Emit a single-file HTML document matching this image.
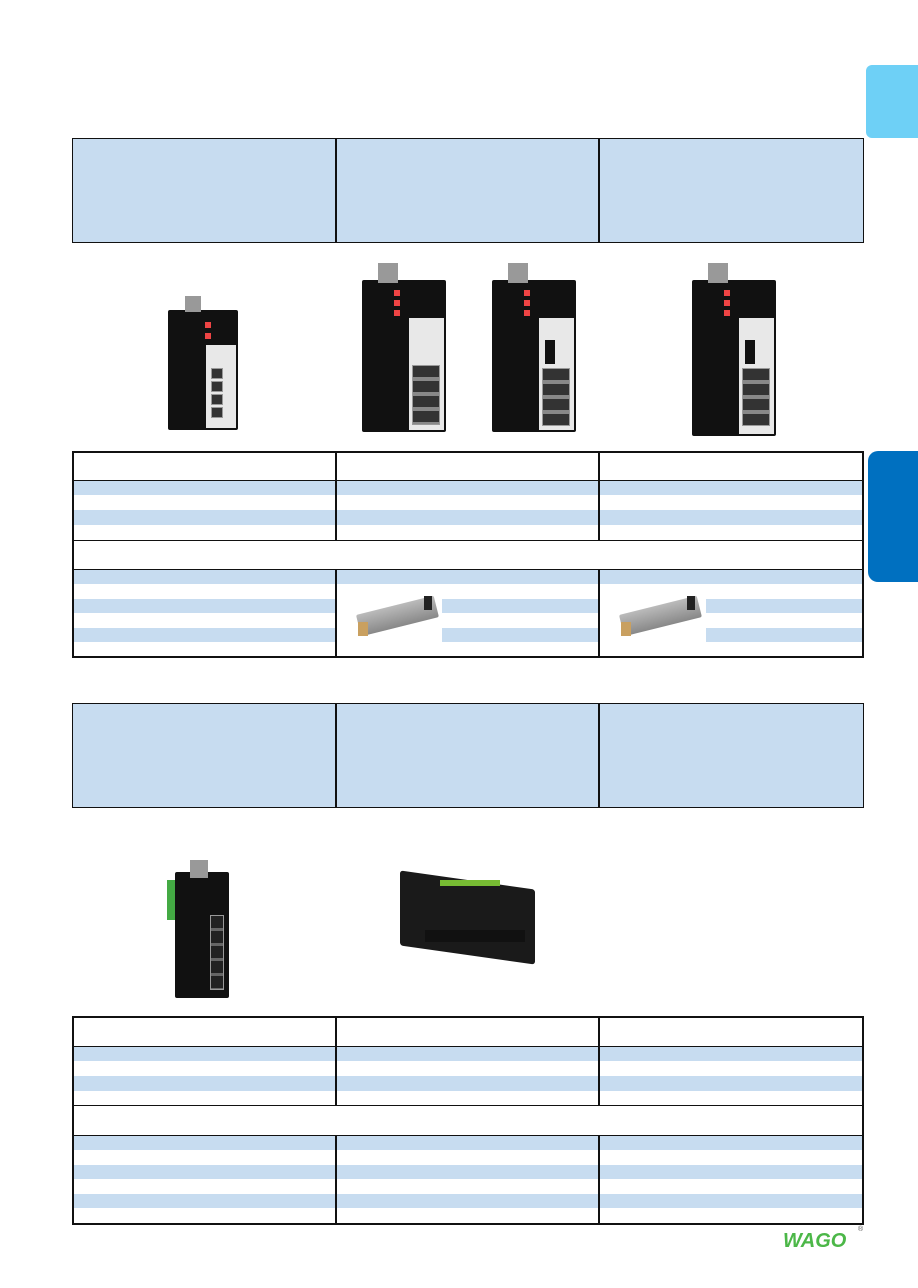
<!DOCTYPE html>
<html><head><meta charset="utf-8"><style>
body{margin:0;width:918px;height:1288px;background:#fff;position:relative;overflow:hidden;font-family:"Liberation Sans",sans-serif}
div{position:absolute;box-sizing:border-box}
.b{background:#c7dcf0}
.hd{background:#c7dcf0;border:1px solid #111}
.bk{background:#111}
.pn{background:#e8e8e8}
.port{background:#333;border:1px solid #999}
</style></head><body>
<!-- side tabs -->
<div style="left:866px;top:65px;width:52px;height:73px;background:#6ed0f6;border-radius:6px 0 0 6px"></div>
<div style="left:868px;top:451px;width:50px;height:131px;background:#0070c0;border-radius:10px 0 0 10px"></div>

<!-- Section 1 header -->
<div class="hd" style="left:72px;top:138px;width:792px;height:105px"></div>
<div style="left:335px;top:138px;width:2px;height:105px;background:#111"></div>
<div style="left:598px;top:138px;width:2px;height:105px;background:#111"></div>

<!-- Table 1 -->
<div style="left:72px;top:451px;width:792px;height:207px;border:2px solid #111"></div>
<div class="b" style="left:74px;top:481px;width:788px;height:14px"></div>
<div class="b" style="left:74px;top:510px;width:788px;height:15px"></div>
<div style="left:72px;top:480px;width:792px;height:1px;background:#111"></div>
<div style="left:72px;top:540px;width:792px;height:1px;background:#111"></div>
<div style="left:72px;top:569px;width:792px;height:1px;background:#111"></div>
<div class="b" style="left:74px;top:570px;width:788px;height:14px"></div>
<div class="b" style="left:74px;top:599px;width:262px;height:14px"></div>
<div class="b" style="left:74px;top:628px;width:262px;height:14px"></div>
<div class="b" style="left:442px;top:599px;width:156px;height:14px"></div>
<div class="b" style="left:442px;top:628px;width:156px;height:14px"></div>
<div class="b" style="left:706px;top:599px;width:156px;height:14px"></div>
<div class="b" style="left:706px;top:628px;width:156px;height:14px"></div>
<div style="left:335px;top:451px;width:2px;height:90px;background:#111"></div>
<div style="left:598px;top:451px;width:2px;height:90px;background:#111"></div>
<div style="left:335px;top:569px;width:2px;height:89px;background:#111"></div>
<div style="left:598px;top:569px;width:2px;height:89px;background:#111"></div>

<!-- SFP modules -->
<div style="left:356px;top:600px;width:80px;height:22px;background:linear-gradient(#bbb,#888);transform:rotate(-14deg);transform-origin:left top;top:615px;border-radius:2px"></div>
<div style="left:358px;top:622px;width:10px;height:14px;background:#c9a060"></div>
<div style="left:424px;top:596px;width:8px;height:14px;background:#222"></div>
<div style="left:619px;top:600px;width:80px;height:22px;background:linear-gradient(#bbb,#888);transform:rotate(-14deg);transform-origin:left top;top:615px;border-radius:2px"></div>
<div style="left:621px;top:622px;width:10px;height:14px;background:#c9a060"></div>
<div style="left:687px;top:596px;width:8px;height:14px;background:#222"></div>

<!-- Devices section 1 -->
<div class="bk" style="left:168px;top:310px;width:70px;height:120px;border-radius:2px"></div>
<div style="left:185px;top:296px;width:16px;height:16px;background:#999"></div>
<div style="left:206px;top:345px;width:30px;height:83px;background:#e8e8e8"></div>
<div class="port" style="left:211px;top:368px;width:12px;height:11px"></div>
<div class="port" style="left:211px;top:381px;width:12px;height:11px"></div>
<div class="port" style="left:211px;top:394px;width:12px;height:11px"></div>
<div class="port" style="left:211px;top:407px;width:12px;height:11px"></div>
<div style="left:205px;top:322px;width:6px;height:6px;background:#e44"></div>
<div style="left:205px;top:333px;width:6px;height:6px;background:#e44"></div>

<div class="bk" style="left:362px;top:280px;width:84px;height:152px;border-radius:2px"></div>
<div style="left:378px;top:263px;width:20px;height:20px;background:#999"></div>
<div style="left:409px;top:318px;width:35px;height:112px;background:#e8e8e8"></div>
<div style="left:394px;top:290px;width:6px;height:6px;background:#e44"></div>
<div style="left:394px;top:300px;width:6px;height:6px;background:#e44"></div>
<div style="left:394px;top:310px;width:6px;height:6px;background:#e44"></div>
<div class="port" style="left:412px;top:365px;width:28px;height:60px;background:repeating-linear-gradient(#333 0 11px,#888 11px 15px)"></div>

<div class="bk" style="left:492px;top:280px;width:84px;height:152px;border-radius:2px"></div>
<div style="left:508px;top:263px;width:20px;height:20px;background:#999"></div>
<div style="left:539px;top:318px;width:35px;height:112px;background:#e8e8e8"></div>
<div style="left:524px;top:290px;width:6px;height:6px;background:#e44"></div>
<div style="left:524px;top:300px;width:6px;height:6px;background:#e44"></div>
<div style="left:524px;top:310px;width:6px;height:6px;background:#e44"></div>
<div class="bk" style="left:545px;top:340px;width:10px;height:24px"></div>
<div class="port" style="left:542px;top:368px;width:28px;height:58px;background:repeating-linear-gradient(#333 0 11px,#888 11px 15px)"></div>

<div class="bk" style="left:692px;top:280px;width:84px;height:156px;border-radius:2px"></div>
<div style="left:708px;top:263px;width:20px;height:20px;background:#999"></div>
<div style="left:739px;top:318px;width:35px;height:116px;background:#e8e8e8"></div>
<div style="left:724px;top:290px;width:6px;height:6px;background:#e44"></div>
<div style="left:724px;top:300px;width:6px;height:6px;background:#e44"></div>
<div style="left:724px;top:310px;width:6px;height:6px;background:#e44"></div>
<div class="bk" style="left:745px;top:340px;width:10px;height:24px"></div>
<div class="port" style="left:742px;top:368px;width:28px;height:58px;background:repeating-linear-gradient(#333 0 11px,#888 11px 15px)"></div>

<!-- Section 2 header -->
<div class="hd" style="left:72px;top:703px;width:792px;height:105px"></div>
<div style="left:335px;top:703px;width:2px;height:105px;background:#111"></div>
<div style="left:598px;top:703px;width:2px;height:105px;background:#111"></div>

<!-- Devices section 2 -->
<div style="left:167px;top:880px;width:10px;height:40px;background:#4a4"></div>
<div class="bk" style="left:175px;top:872px;width:54px;height:126px;border-radius:2px"></div>
<div style="left:190px;top:860px;width:18px;height:18px;background:#999"></div>
<div class="port" style="left:210px;top:915px;width:14px;height:75px;background:repeating-linear-gradient(#222 0 12px,#666 12px 15px)"></div>
<div class="bk" style="left:400px;top:880px;width:135px;height:75px;border-radius:3px;background:#1a1a1a;transform:skewY(8deg)"></div>
<div style="left:425px;top:930px;width:100px;height:12px;background:#111"></div>
<div style="left:440px;top:880px;width:60px;height:6px;background:#7b3"></div>

<!-- Table 2 -->
<div style="left:72px;top:1016px;width:792px;height:209px;border:2px solid #111"></div>
<div style="left:72px;top:1046px;width:792px;height:1px;background:#111"></div>
<div class="b" style="left:74px;top:1047px;width:788px;height:14px"></div>
<div class="b" style="left:74px;top:1076px;width:788px;height:15px"></div>
<div style="left:72px;top:1105px;width:792px;height:1px;background:#111"></div>
<div style="left:72px;top:1135px;width:792px;height:1px;background:#111"></div>
<div class="b" style="left:74px;top:1136px;width:788px;height:14px"></div>
<div class="b" style="left:74px;top:1165px;width:788px;height:14px"></div>
<div class="b" style="left:74px;top:1194px;width:788px;height:14px"></div>
<div style="left:335px;top:1016px;width:2px;height:90px;background:#111"></div>
<div style="left:598px;top:1016px;width:2px;height:90px;background:#111"></div>
<div style="left:335px;top:1135px;width:2px;height:90px;background:#111"></div>
<div style="left:598px;top:1135px;width:2px;height:90px;background:#111"></div>

<!-- WAGO logo -->
<div style="left:783px;top:1230px;font:italic bold 20px 'Liberation Sans',sans-serif;color:#4cb748;letter-spacing:0px">WAGO</div>
<div style="left:858px;top:1226px;font-size:7px;color:#555">®</div>
</body></html>
